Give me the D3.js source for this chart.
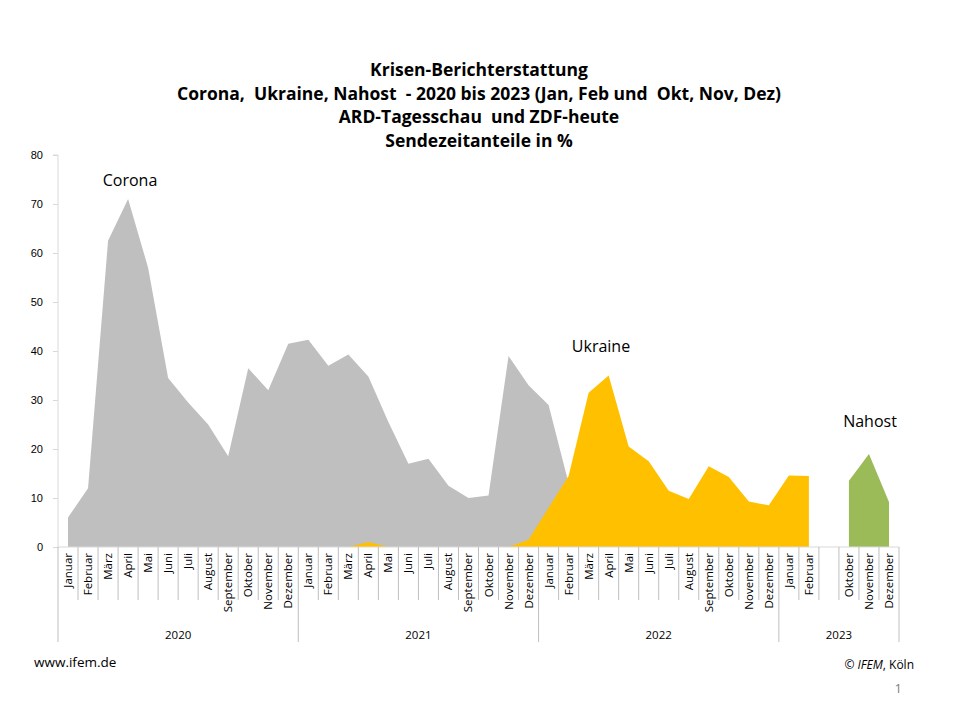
<!DOCTYPE html>
<html><head><meta charset="utf-8">
<script src="https://cdn.jsdelivr.net/npm/d3@7"></script>
<style>body{margin:0;background:#fff;font-family:"Open Sans","Noto Sans",Arial,sans-serif}</style>
</head><body><div id="chart"></div>
<script>
// month slots: 2020-2022 full years, 2023 Jan, Feb, gap, Okt, Nov, Dez
const months = ["Januar","Februar","März","April","Mai","Juni","Juli","August","September","Oktober","November","Dezember"];
const slots = [].concat(months, months, months, ["Januar","Februar","","Oktober","November","Dezember"]);
const years = [{label:"2020",n:12},{label:"2021",n:12},{label:"2022",n:12},{label:"2023",n:6}];

const corona = [6,12,62.5,71,57,34.5,29.5,25,18.5,36.5,32,41.5,
  42.3,37,39.3,34.8,25.5,17,18,12.5,10,10.5,39,33,
  29,13,5,null,null,null,null,null,null,null,null,null,
  null,null,null,null,null,null];
const ukraine = [null,null,null,null,null,null,null,null,null,null,null,null,
  0,0,0,1,0,0,0,0,0,0,0,1.5,
  8,14.5,31.5,35,20.5,17.5,11.5,9.8,16.5,14.3,9.3,8.5,
  14.6,14.5,null,null,null,null];
const nahost = [null,null,null,null,null,null,null,null,null,null,null,null,
  null,null,null,null,null,null,null,null,null,null,null,null,
  null,null,null,null,null,null,null,null,null,null,null,null,
  null,null,null,13.5,19,9.2];
const yTicks = [0,10,20,30,40,50,60,70,80];

const W = 960, H = 720, x0 = 58, x1 = 899, yTop = 155, yBase = 547;
const svg = d3.select("#chart").append("svg").attr("width", W).attr("height", H);

const x = d3.scaleBand().domain(d3.range(slots.length)).range([x0, x1]);
const y = d3.scaleLinear().domain([0, 80]).range([yBase, yTop]);
const cx = i => x(i) + x.bandwidth() / 2;

function drawArea(vals, color) {
  const a = d3.area().defined(d => d != null).x((d, i) => cx(i)).y0(yBase).y1(d => y(d));
  svg.append("path").datum(vals).attr("d", a).attr("fill", color);
}
drawArea(corona, "#bfbfbf");
drawArea(ukraine, "#ffc000");
drawArea(nahost, "#9bbb59");

// y axis
const ya = svg.append("g").attr("transform", `translate(${x0},0)`)
  .call(d3.axisLeft(y).tickValues(yTicks).tickSize(5).tickPadding(10));
ya.selectAll("path,line").attr("stroke", "#d9d9d9");
ya.select(".domain").attr("d", `M-5,${yTop}H0V${yBase}`);
ya.selectAll("text").attr("font-size", 11).attr("fill", "#000").attr("font-family", "inherit");

// x axis line, category ticks, year separators
const grey = "#bfbfbf";
svg.append("line").attr("x1", x0).attr("x2", x1).attr("y1", yBase).attr("y2", yBase).attr("stroke", "#d9d9d9");
const bounds = d3.range(slots.length + 1).map(i => i < slots.length ? x(i) : x1);
let yb = [0]; years.forEach(yr => yb.push(yb[yb.length - 1] + yr.n));
svg.selectAll(".tk").data(bounds).join("line")
  .attr("x1", d => d).attr("x2", d => d).attr("y1", yBase)
  .attr("y2", (d, i) => yb.includes(i) ? 642 : 600).attr("stroke", grey);
svg.selectAll(".ml").data(slots).join("text")
  .attr("transform", (d, i) => `translate(${cx(i) + 4},553) rotate(-90)`)
  .attr("text-anchor", "end").attr("font-size", 11.5).attr("fill", "#000").text(d => d);
svg.selectAll(".yl").data(years).join("text")
  .attr("x", (d, i) => (x(yb[i]) + (yb[i + 1] < slots.length ? x(yb[i + 1]) : x1)) / 2)
  .attr("y", 639).attr("text-anchor", "middle").attr("font-size", 11.5).text(d => d.label);

// series labels
const lab = (t, px, py) => svg.append("text").attr("x", px).attr("y", py).attr("font-size", 16).attr("text-anchor", "middle").text(t);
lab("Corona", 130, 186);
lab("Ukraine", 601, 352);
lab("Nahost", 870, 427);

// title
const title = ["Krisen-Berichterstattung", "Corona,  Ukraine, Nahost  - 2020 bis 2023 (Jan, Feb und  Okt, Nov, Dez)", "ARD-Tagesschau  und ZDF-heute", "Sendezeitanteile in %"];
svg.selectAll(".tt").data(title).join("text").attr("x", 479).attr("y", (d, i) => 76 + i * 23.5)
  .attr("text-anchor", "middle").attr("font-size", 17.5).attr("font-weight", "bold").attr("xml:space", "preserve").text(d => d);

svg.append("text").attr("x", 34).attr("y", 667).attr("font-size", 13.5).text("www.ifem.de");
const c = svg.append("text").attr("x", 914).attr("y", 669).attr("text-anchor", "end").attr("font-size", 12);
c.append("tspan").text("©  ");
c.append("tspan").attr("font-style", "italic").text("IFEM");
c.append("tspan").text(", Köln");
svg.append("text").attr("x", 902).attr("y", 693).attr("text-anchor", "end").attr("font-size", 13).attr("fill", "#7f7f7f").text("1");
</script></body></html>
